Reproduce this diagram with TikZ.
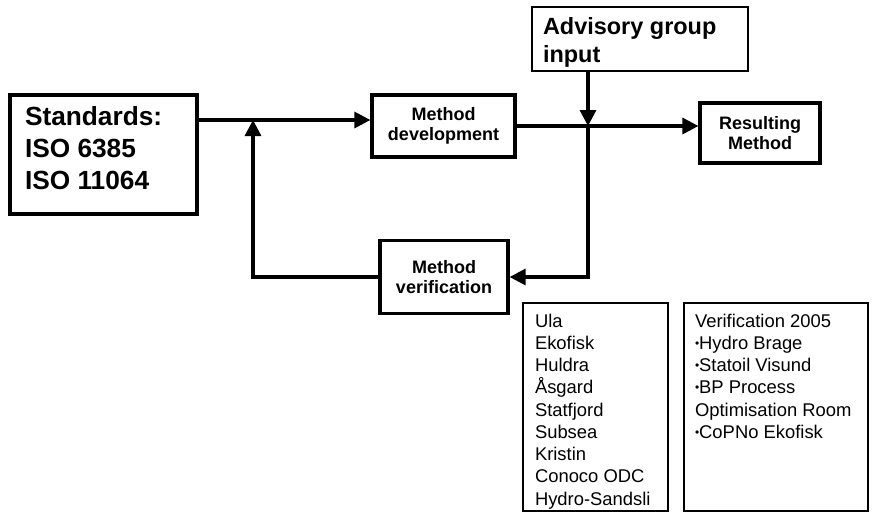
\documentclass[tikz,border=0pt]{standalone}
\usepackage{fontspec}
\setmainfont{Liberation Sans}
\usetikzlibrary{arrows.meta}

\newcommand{\bul}{\raisebox{0.2ex}{\fontsize{9pt}{9pt}\selectfont•}}

\tikzset{
  stepbox/.style={draw,line width=2.4pt,align=center,inner sep=0pt,
    font=\fontsize{13.5pt}{15pt}\selectfont\bfseries},
  listbox/.style={draw,line width=0.8pt,inner ysep=0pt,
    font=\fontsize{13.8pt}{16.7pt}\selectfont},
  link/.style={line width=2.4pt}
}

\begin{document}
\begin{tikzpicture}[x=0.75pt,y=-0.75pt,>={Triangle[length=12pt,width=12pt]}]
\useasboundingbox (0,0) rectangle (873,517);

\node[draw,line width=2.4pt,inner xsep=11.25pt,inner ysep=0pt,
  font=\fontsize{19.7pt}{23.75pt}\selectfont\bfseries] (std) at (103.5,154.5)
  {\parbox[c][89.25pt][t]{117.75pt}{\raggedright\rule{0pt}{23pt}Standards:\\ISO 6385\\ISO 11064}};

\node[draw,line width=0.8pt,inner xsep=8.25pt,inner ysep=0pt,
  font=\fontsize{17.6pt}{21pt}\selectfont\bfseries] (adv) at (640,39)
  {\parbox[c][48pt][t]{145.5pt}{\raggedright\rule{0pt}{21pt}Advisory group\\input}};

\node[stepbox,minimum width=107.25pt,minimum height=46.5pt] (mdev) at (443.5,126)
  {Method\\development};
\node[stepbox,minimum width=90pt,minimum height=45pt] (rmeth) at (760,133)
  {Resulting\\Method};
\node[stepbox,minimum width=96pt,minimum height=54.75pt] (mver) at (444,277)
  {Method\\verification};

\node[listbox,inner xsep=9pt] (fields) at (595.5,407)
  {\parbox[c][156pt][t]{90.75pt}{\raggedright\rule{0pt}{18pt}Ula\\Ekofisk\\Huldra\\Åsgard\\Statfjord\\Subsea\\Kristin\\Conoco ODC\\Hydro-Sandsli}};
\node[listbox,inner xsep=8.25pt] (ver05) at (776,407)
  {\parbox[c][156pt][t]{121.5pt}{\raggedright\rule{0pt}{18pt}Verification 2005\\\bul Hydro Brage\\\bul Statoil Visund\\\bul BP Process\\Optimisation Room\\\bul CoPNo Ekofisk}};

\coordinate (fb) at (253,120);
\coordinate (jn) at (588,126);

\draw[link,->] (std.east |- fb) -- (mdev.west |- fb);
\draw[link,->] (mver.west) -| (fb);
\draw[link] (mdev.east) -- (jn);
\draw[link,->] (jn) -- (rmeth.west |- jn);
\draw[link,->] (adv.south -| jn) -- (jn);
\draw[link,->] (jn) |- (mver.east);
\end{tikzpicture}
\end{document}
